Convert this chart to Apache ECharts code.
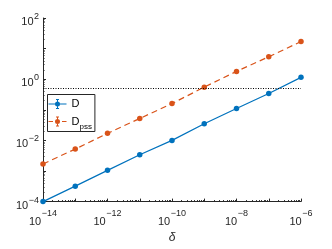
<!DOCTYPE html>
<html>
<head>
<meta charset="utf-8">
<script src="https://cdn.jsdelivr.net/npm/echarts@6/dist/echarts.min.js"></script>
<style>html,body{margin:0;padding:0;background:#fff;}#c{width:332px;height:249px;}</style>
</head>
<body>
<div id="c"></div>
<script>
const deltas = [1e-14, 1e-13, 1e-12, 1e-11, 1e-10, 1e-9, 1e-8, 1e-7, 1e-6];
const D = [1.0e-4, 3.2e-4, 1.05e-3, 3.4e-3, 1.0e-2, 3.5e-2, 0.11, 0.34, 1.15];
const Dpss = [1.7e-3, 5.2e-3, 1.7e-2, 5.2e-2, 0.16, 0.55, 1.8, 5.4, 17];
const threshold = 0.5;
const xMajor = [1e-14, 1e-13, 1e-12, 1e-11, 1e-10, 1e-9, 1e-8, 1e-7, 1e-6];
const xLabels = [1e-14, 1e-12, 1e-10, 1e-8, 1e-6];
const yMajor = [1e-4, 1e-3, 1e-2, 1e-1, 1, 10, 100];
const yLabels = [1e-4, 1e-2, 1, 100];

function minors(lo, hi) {
  const out = [];
  for (let d = lo; d < hi; d++) for (let k = 2; k <= 9; k++) out.push(k * Math.pow(10, d));
  return out;
}
const FONT = 'Liberation Sans';
const xRich = {
  b: {fontSize: 11, lineHeight: 11, padding: [8, 0, 0, 0], fontFamily: FONT, color: '#262626'},
  e: {fontSize: 9, lineHeight: 11, padding: [0, 0, 8, 0.5], fontFamily: FONT, color: '#262626'}
};
const yRich = {
  b: {fontSize: 11, lineHeight: 11, padding: [8, 0, 0, 0], fontFamily: FONT, color: '#262626'},
  e: {fontSize: 9, lineHeight: 11, padding: [0, 0, 3, 0.5], fontFamily: FONT, color: '#262626'}
};
function fmt(v) {
  const e = Math.round(Math.log10(v));
  return '{b|10}{e|' + String(e).replace('-', '\u2212') + '}';
}
const axisCommon = {type: 'log', logBase: 10, splitLine: {show: false}, minorTick: {show: false}};
const blue = '#0072BD', orange = '#D95319';

const iconD = 'path://M0,4.5L18,4.5L18,5.5L0,5.5Z M8.5,0.5L9.5,0.5L9.5,9.5L8.5,9.5Z M7.5,0L10.5,0L10.5,1L7.5,1Z M7.5,9L10.5,9L10.5,10L7.5,10Z M6.5,5A2.5,2.5,0,1,1,11.5,5A2.5,2.5,0,1,1,6.5,5Z';
const iconP = 'path://M0,4.5L4.5,4.5L4.5,5.5L0,5.5Z M13.5,4.5L18,4.5L18,5.5L13.5,5.5Z M8.5,0.5L9.5,0.5L9.5,9.5L8.5,9.5Z M7.5,0L10.5,0L10.5,1L7.5,1Z M7.5,9L10.5,9L10.5,10L7.5,10Z M6.5,5A2.5,2.5,0,1,1,11.5,5A2.5,2.5,0,1,1,6.5,5Z';

const chart = echarts.init(document.getElementById('c'), null, {renderer: 'canvas'});
chart.setOption({
  animation: false,
  backgroundColor: '#fff',
  grid: {left: 43, right: 31, top: 18, bottom: 43, containLabel: false},
  legend: {
    orient: 'vertical', left: 47.5, top: 94.5,
    padding: [4, 3, 1, 1], itemGap: 3, itemWidth: 18, itemHeight: 10,
    backgroundColor: '#fff', borderColor: '#262626', borderWidth: 1, borderRadius: 0,
    data: [{name: 'D', icon: iconD}, {name: 'D_pss', icon: iconP}],
    formatter: function (n) { return n === 'D' ? '{t|D}' : '{t|D}{s|pss}'; },
    textStyle: {
      rich: {
        t: {fontSize: 11, lineHeight: 11, fontFamily: FONT, color: '#000'},
        s: {fontSize: 8, lineHeight: 11, padding: [10, 0, 0, 0], fontFamily: FONT, color: '#000'}
      }
    }
  },
  xAxis: [
    Object.assign({}, axisCommon, {
      min: 1e-14, max: 1e-6, position: 'bottom',
      name: 'δ', nameLocation: 'middle', nameGap: 29,
      nameTextStyle: {fontSize: 12, fontStyle: 'italic', fontFamily: FONT, color: '#262626'},
      axisLine: {show: true, onZero: false, lineStyle: {color: '#262626', width: 1}},
      axisTick: {show: true, inside: true, length: 3, customValues: xMajor, lineStyle: {color: '#262626'}},
      axisLabel: {show: true, margin: 10.5, customValues: xLabels, formatter: fmt, rich: xRich}
    }),
    Object.assign({}, axisCommon, {
      min: 1e-14, max: 1e-6, position: 'bottom',
      axisLine: {show: false, onZero: false},
      axisTick: {show: true, inside: true, length: 1.5, customValues: minors(-14, -6), lineStyle: {color: '#262626'}},
      axisLabel: {show: false}
    })
  ],
  yAxis: [
    Object.assign({}, axisCommon, {
      min: 1e-4, max: 100, position: 'left',
      axisLine: {show: true, onZero: false, lineStyle: {color: '#262626', width: 1}},
      axisTick: {show: true, inside: true, length: 3, customValues: yMajor, lineStyle: {color: '#262626'}},
      axisLabel: {show: true, margin: 4, customValues: yLabels, formatter: fmt, rich: yRich}
    }),
    Object.assign({}, axisCommon, {
      min: 1e-4, max: 100, position: 'left',
      axisLine: {show: false, onZero: false},
      axisTick: {show: true, inside: true, length: 1.5, customValues: minors(-4, 2), lineStyle: {color: '#262626'}},
      axisLabel: {show: false}
    })
  ],
  series: [
    {
      name: 'D', type: 'line', xAxisIndex: 0, yAxisIndex: 0,
      data: deltas.map((x, i) => [x, D[i]]),
      symbol: 'circle', symbolSize: 5.5, showSymbol: true,
      itemStyle: {color: blue}, lineStyle: {color: blue, width: 1.2}
    },
    {
      name: 'D_pss', type: 'line', xAxisIndex: 0, yAxisIndex: 0,
      data: deltas.map((x, i) => [x, Dpss[i]]),
      symbol: 'circle', symbolSize: 5.5, showSymbol: true,
      itemStyle: {color: orange}, lineStyle: {color: orange, width: 1.2, type: [6, 4]}
    },
    {
      name: 'threshold', type: 'line', xAxisIndex: 0, yAxisIndex: 0, data: [],
      markLine: {
        silent: true, symbol: ['none', 'none'], label: {show: false},
        lineStyle: {color: '#000', width: 1, type: [1, 1.5]},
        data: [{yAxis: threshold}]
      }
    }
  ]
});
</script>
</body>
</html>
